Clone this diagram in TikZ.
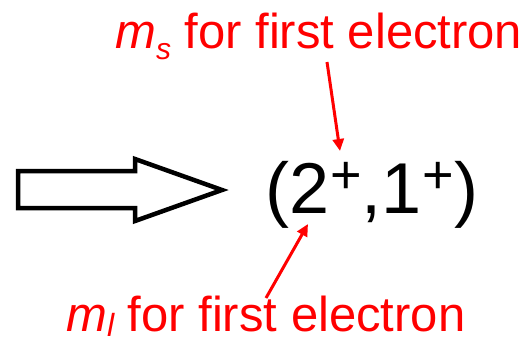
\documentclass[tikz,border=0pt]{standalone}
\usepackage{fontspec}
\setmainfont{Liberation Sans}
\usepackage{tikz}
\usetikzlibrary{arrows.meta, positioning}
\definecolor{labelred}{RGB}{255,0,0}

\tikzset{
  redlabel/.style={text=labelred, inner sep=0pt, anchor=base west,
    font=\fontsize{49}{52}\selectfont},
  redarrow/.style={draw=labelred, line width=3pt,
    -{Triangle[length=12pt,width=11pt]}},
}
\newcommand{\supplus}{\kern1pt\raisebox{20pt}{\fontsize{54}{54}\selectfont +}}

\begin{document}
\begin{tikzpicture}[x=1pt, y=-1pt]
  \useasboundingbox (0,0) rectangle (527,343);
  % big hollow arrow
  \draw[line width=4.5pt, miter limit=10] (18,171) -- (135,171) -- (135,159) -- (222,190)
    -- (135,221) -- (135,208) -- (18,208) -- cycle;
  % quantum numbers
  \node[inner sep=0pt, anchor=base west, font=\fontsize{72}{80}\selectfont] (pair) at (265,213)
    {(2\supplus,1\supplus)};
  % labels
  \node[redlabel] (mslabel) at (115,48)
    {\itshape m\raisebox{-11pt}{\fontsize{30}{30}\selectfont s}\upshape\ for first electron};
  \node[redlabel] (mllabel) at (66,331)
    {\itshape m\raisebox{-5pt}{\fontsize{32}{32}\selectfont l}\upshape\ for first electron};
  \coordinate (mstail) at (327,62);
  \coordinate (mstip) at (340,151);
  \coordinate (mltail) at (266,298);
  \coordinate (mltip) at (308,224);
  \draw[redarrow] (mstail) -- (mstip);
  \draw[redarrow] (mltail) -- (mltip);
\end{tikzpicture}
\end{document}
